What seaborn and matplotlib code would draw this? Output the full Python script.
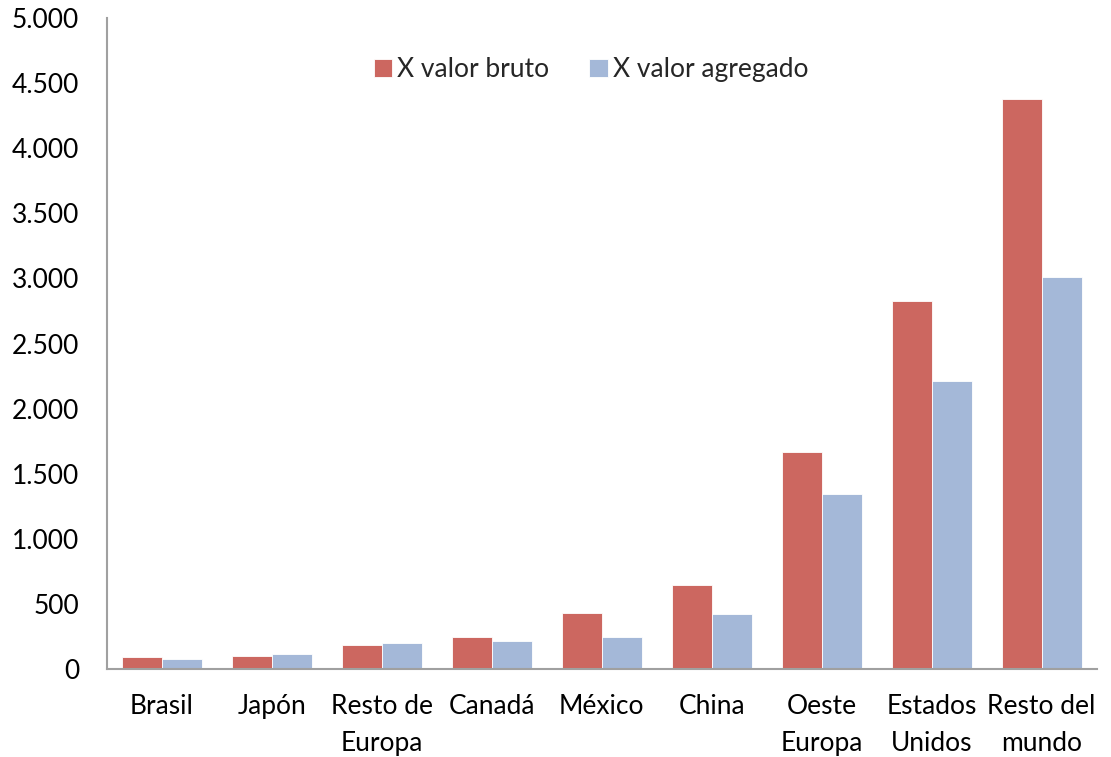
import matplotlib
matplotlib.use("Agg")
import matplotlib.pyplot as plt
import pandas as pd
import seaborn as sns
from matplotlib.ticker import FuncFormatter

# values
categories = ["Brasil", "Japón", "Resto de\nEuropa", "Canadá", "México",
              "China", "Oeste\nEuropa", "Estados\nUnidos", "Resto del\nmundo"]
bruto = [90, 97, 182, 246, 430, 645, 1667, 2826, 4378]
agregado = [77, 115, 197, 217, 243, 422, 1344, 2212, 3011]
series_names = ["X valor bruto", "X valor agregado"]
colors = ["#CC6760", "#A4B8D8"]

df = pd.DataFrame({
    "pais": categories * 2,
    "valor": bruto + agregado,
    "serie": [series_names[0]] * len(categories) + [series_names[1]] * len(categories),
})

sns.set_style("white")
plt.rcParams["font.family"] = ["Lato", "DejaVu Sans"]

fig = plt.figure(figsize=(11.11, 7.57), dpi=100)
ax = fig.add_axes([0.0963, 0.1162, 0.8907, 0.8600])

sns.barplot(data=df, x="pais", y="valor", hue="serie", palette=colors,
            saturation=1, width=0.727, gap=0, dodge=True, ax=ax,
            edgecolor="white", linewidth=0.6)

ax.set_ylim(0, 5000)
ax.set_xlim(-0.5, len(categories) - 0.5)
ax.set_yticks(range(0, 5001, 500))
ax.yaxis.set_major_formatter(FuncFormatter(lambda v, p: f"{int(v):,}".replace(",", ".")))
ax.set_xlabel("")
ax.set_ylabel("")
ax.tick_params(axis="both", length=0, labelsize=19, colors="black")
ax.tick_params(axis="y", pad=20)
ax.tick_params(axis="x", pad=18)
for lab in ax.get_xticklabels():
    lab.set_linespacing(1.58)
    lab.set_verticalalignment("top")

for s in ["top", "right"]:
    ax.spines[s].set_visible(False)
for s in ["left", "bottom"]:
    ax.spines[s].set_color("#A0A0A0")
    ax.spines[s].set_linewidth(1.5)

leg = ax.legend(loc="center", bbox_to_anchor=(0.532, 0.908),
                bbox_transform=fig.transFigure, ncol=2, frameon=False,
                fontsize=19, handlelength=0.7, handleheight=0.7,
                handletextpad=0.2, columnspacing=1.5)

fig.savefig("out.png", dpi=100)
